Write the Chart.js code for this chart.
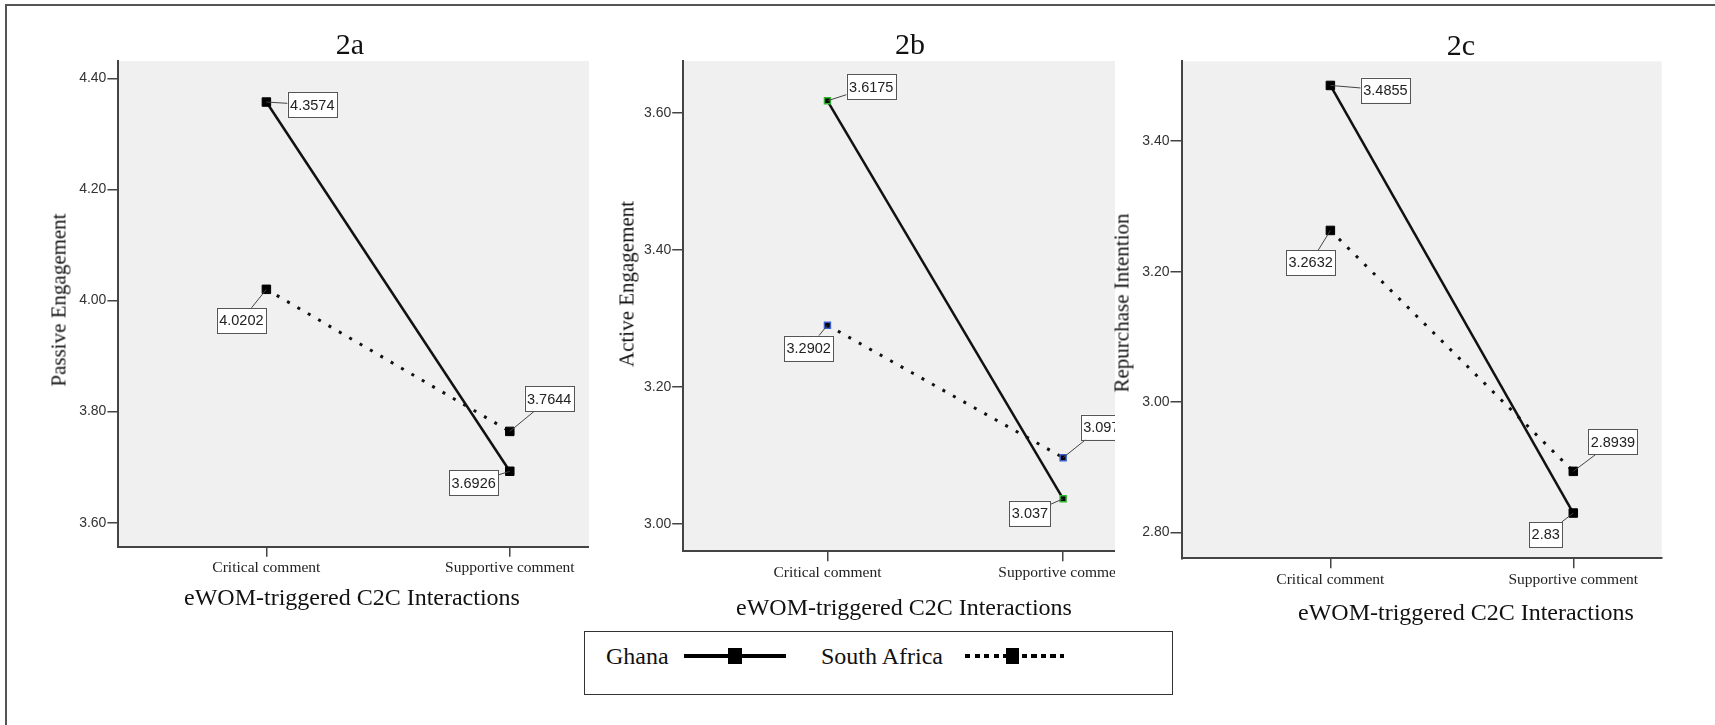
<!DOCTYPE html>
<html>
<head>
<meta charset="utf-8">
<title>eWOM-triggered C2C Interactions</title>
<script src="https://cdn.jsdelivr.net/npm/chart.js@4.4.1/dist/chart.umd.min.js"></script>
<style>
    html, body { margin: 0; padding: 0; background: #fff; width: 1715px; height: 725px; overflow: hidden; }
    #moldura { position: absolute; left: 5px; top: 4px; right: 0; bottom: 0; border-left: 2px solid #555; border-top: 2px solid #555; }
    .painel { position: absolute; top: 6px; height: 594px; background: #fff; }
    .txt { position: absolute; font-family: "Liberation Serif", "Times New Roman", serif; color: #111; line-height: 1; white-space: nowrap; transform: translate(-50%, -50%); z-index: 5; }
    .titulo { font-size: 30px; }
    .eixo-x { font-size: 24px; }
    .eixo-y { font-size: 21px; transform: translate(-50%, -50%) rotate(-90deg); }
    #legenda { position: absolute; left: 584px; top: 631px; width: 587px; height: 62px; border: 1.5px solid #333; background: #fff; z-index: 5;
               font-family: "Liberation Serif", "Times New Roman", serif; font-size: 24px; color: #111; }
    #legenda span { position: absolute; top: 24px; transform: translateY(-50%); line-height: 1; white-space: nowrap; }
    #legenda .linha { position: absolute; top: 22px; height: 4px; }
    #legenda .marca { position: absolute; top: 16px; height: 16px; background: #000; }
</style>
</head>
<body>
<div id="moldura"></div>

<div class="painel" id="p2a" style="left: 8px; width: 622px;"><canvas id="c2a"></canvas></div>
<div class="painel" id="p2b" style="left: 589px; width: 571px;"><canvas id="c2b"></canvas></div>
<div class="painel" id="p2c" style="left: 1115px; width: 600px;"><canvas id="c2c"></canvas></div>

<div class="txt titulo" style="left: 350px; top: 44px;">2a</div>
<div class="txt titulo" style="left: 910px; top: 44px;">2b</div>
<div class="txt titulo" style="left: 1461px; top: 45px;">2c</div>

<div class="txt eixo-y" style="left: 59px; top: 300px;">Passive Engagement</div>
<div class="txt eixo-y" style="left: 627px; top: 284px;">Active Engagement</div>
<div class="txt eixo-y" style="left: 1122px; top: 303px;">Repurchase Intention</div>

<div class="txt eixo-x" style="left: 352px; top: 597px;">eWOM-triggered C2C Interactions</div>
<div class="txt eixo-x" style="left: 904px; top: 607px;">eWOM-triggered C2C Interactions</div>
<div class="txt eixo-x" style="left: 1466px; top: 612px;">eWOM-triggered C2C Interactions</div>

<div id="legenda">
    <span style="left: 21px;">Ghana</span>
    <div class="linha" style="left: 99px; width: 102px; background: #000;"></div>
    <div class="marca" style="left: 143px; width: 14px;"></div>
    <span style="left: 236px;">South Africa</span>
    <div class="linha" style="left: 380px; width: 99px; background: repeating-linear-gradient(90deg, #000 0 5px, transparent 5px 9.5px);"></div>
    <div class="marca" style="left: 421px; width: 13px;"></div>
</div>

<script>
// categorias e séries
const categorias = ['Critical comment', 'Supportive comment'];

const passivaGhana = [4.3574, 3.6926];
const passivaAfricaSul = [4.0202, 3.7644];
const ativaGhana = [3.6175, 3.037];
const ativaAfricaSul = [3.2902, 3.097];
const recompraGhana = [3.4855, 2.83];
const recompraAfricaSul = [3.2632, 2.8939];

const ticksPassiva = [3.6, 3.8, 4.0, 4.2, 4.4];
const ticksAtiva = [3.0, 3.2, 3.4, 3.6];
const ticksRecompra = [2.8, 3.0, 3.2, 3.4];

// layout de cada painel (escala, margens, deslocamento dos rótulos)
const paineis = [
    { id: 'c2a', ghana: passivaGhana, africa: passivaAfricaSul, ticks: ticksPassiva,
      yMin: 3.5566, yMax: 4.4313, xMin: -0.608, xMax: 1.325,
      larguraY: 110.4, topo: 55, alturaX: 53.2, direita: 41.1,
      raio: 6, bordaPonto: 1, corGhana: '#000', corAfrica: '#000',
      deslocamentos: [[[45.9, 2.8], [-36.2, 11.5]], [[-25, 31.1], [39.4, -32.4]]] },
    { id: 'c2b', ghana: ativaGhana, africa: ativaAfricaSul, ticks: ticksAtiva,
      yMin: 2.9606, yMax: 3.6755, xMin: -0.612, xMax: 1.22,
      larguraY: 94.2, topo: 55, alturaX: 48.8, direita: 45,
      raio: 4.2, bordaPonto: 1.5, corGhana: '#2fb52f', corAfrica: '#3a5fcd',
      deslocamentos: [[[43.8, -14], [-33.2, 14.4]], [[-18.8, 23.1], [38.2, -30.6]]] },
    { id: 'c2c', ghana: recompraGhana, africa: recompraAfricaSul, ticks: ticksRecompra,
      yMin: 2.7606, yMax: 3.5225, xMin: -0.613, xMax: 1.364,
      larguraY: 66.5, topo: 55.3, alturaX: 41.7, direita: 53.3,
      raio: 6, bordaPonto: 1, corGhana: '#000', corAfrica: '#000',
      deslocamentos: [[[55, 4.6], [-27.6, 21.4]], [[-19.8, 32], [39.6, -29.8]]] }
];

// fundo cinza da área do gráfico
const fundoPlugin = {
    id: 'fundo',
    beforeDraw(chart) {
        const { ctx, chartArea: a } = chart;
        ctx.save();
        ctx.fillStyle = '#f0f0f0';
        ctx.fillRect(a.left, a.top, a.right - a.left, a.bottom - a.top);
        ctx.restore();
    }
};

// caixas com os valores e linha de ligação até o ponto
const rotulosPlugin = {
    id: 'rotulos',
    afterDatasetsDraw(chart, args, opts) {
        const ctx = chart.ctx;
        ctx.save();
        ctx.font = '14.5px "Liberation Sans", Arial, sans-serif';
        ctx.textAlign = 'center';
        ctx.textBaseline = 'middle';
        chart.data.datasets.forEach((ds, d) => {
            const meta = chart.getDatasetMeta(d);
            meta.data.forEach((pt, i) => {
                const [dx, dy] = opts.deslocamentos[d][i];
                const texto = String(ds.data[i].y);
                const w = ctx.measureText(texto).width + 5;
                const h = 25;
                const cx = pt.x + dx, cy = pt.y + dy;
                const u = Math.min(dx ? (w / 2) / Math.abs(dx) : Infinity, dy ? (h / 2) / Math.abs(dy) : Infinity);
                if (u < 1) {
                    const s = 1 - u;
                    ctx.strokeStyle = '#444';
                    ctx.lineWidth = 1;
                    ctx.beginPath();
                    ctx.moveTo(pt.x, pt.y);
                    ctx.lineTo(pt.x + s * dx, pt.y + s * dy);
                    ctx.stroke();
                }
                ctx.fillStyle = '#fff';
                ctx.fillRect(cx - w / 2, cy - h / 2, w, h);
                ctx.strokeStyle = '#555';
                ctx.lineWidth = 1;
                ctx.strokeRect(Math.round(cx - w / 2) + 0.5, Math.round(cy - h / 2) + 0.5, Math.round(w), h);
                ctx.fillStyle = '#222';
                ctx.fillText(texto, cx, cy + 1);
            });
        });
        ctx.restore();
    }
};

paineis.forEach(p => {
    new Chart(document.getElementById(p.id), {
        type: 'line',
        data: {
            datasets: [{
                label: 'Ghana',
                data: p.ghana.map((v, i) => ({ x: i, y: v })),
                borderColor: '#111',
                borderWidth: 2.5,
                pointStyle: 'rect',
                pointRadius: p.raio,
                pointBackgroundColor: '#000',
                pointBorderColor: p.corGhana,
                pointBorderWidth: p.bordaPonto
            }, {
                label: 'South Africa',
                data: p.africa.map((v, i) => ({ x: i, y: v })),
                borderColor: '#111',
                borderWidth: 3,
                borderDash: [3, 9],
                pointStyle: 'rect',
                pointRadius: p.raio,
                pointBackgroundColor: '#000',
                pointBorderColor: p.corAfrica,
                pointBorderWidth: p.bordaPonto
            }]
        },
        options: {
            responsive: true,
            maintainAspectRatio: false,
            animation: false,
            layout: { padding: { left: 0, top: p.topo, right: p.direita, bottom: 0 } },
            plugins: {
                legend: { display: false },
                tooltip: { enabled: false },
                rotulos: { deslocamentos: p.deslocamentos }
            },
            scales: {
                x: {
                    type: 'linear',
                    min: p.xMin,
                    max: p.xMax,
                    afterBuildTicks: s => { s.ticks = categorias.map((c, i) => ({ value: i })); },
                    afterFit: s => { s.height = p.alturaX; },
                    grid: { drawOnChartArea: false, tickLength: 10, color: '#444', lineWidth: 1.5 },
                    border: { color: '#444', width: 2 },
                    ticks: {
                        callback: v => categorias[v],
                        maxRotation: 0,
                        autoSkip: false,
                        padding: 2,
                        color: '#222',
                        font: { family: '"Liberation Serif", serif', size: 15.5 }
                    }
                },
                y: {
                    min: p.yMin,
                    max: p.yMax,
                    afterBuildTicks: s => { s.ticks = p.ticks.map(v => ({ value: v })); },
                    afterFit: s => { s.width = p.larguraY; },
                    grid: { drawOnChartArea: false, tickLength: 11, color: '#444', lineWidth: 1.5 },
                    border: { color: '#444', width: 2 },
                    ticks: {
                        callback: v => v.toFixed(2),
                        padding: 1,
                        color: '#333',
                        font: { family: '"Liberation Sans", Arial, sans-serif', size: 14 }
                    }
                }
            }
        },
        plugins: [fundoPlugin, rotulosPlugin]
    });
});
</script>
</body>
</html>
